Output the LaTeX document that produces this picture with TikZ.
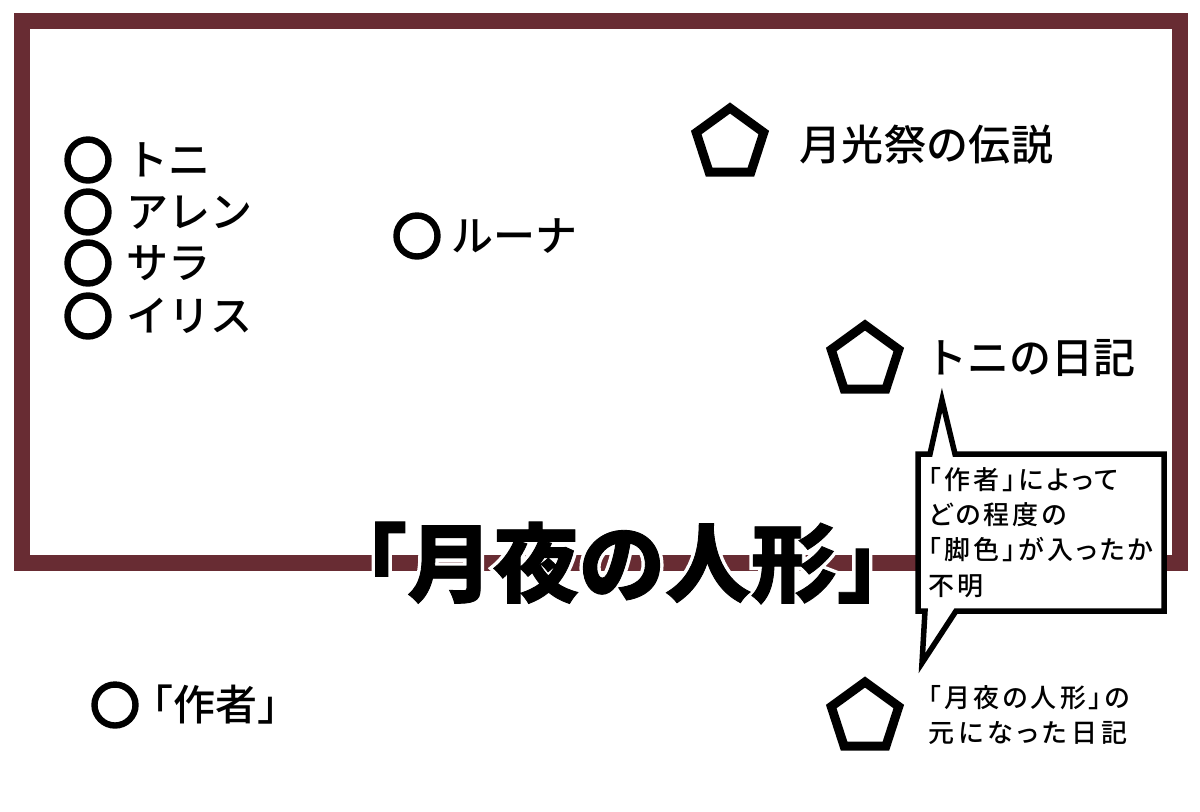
\documentclass[tikz,border=0pt]{standalone}
\usepackage{fontspec}
\usepackage{xcolor}
\usetikzlibrary{shapes.geometric}
\newfontfamily\jpfont{Noto Sans CJK JP Medium}
\newfontfamily\jpsmall[RawFeature=+palt, LetterSpace=12]{Noto Sans CJK JP Medium}
\newfontfamily\jptitle[FakeBold=1]{Noto Sans CJK JP Black}
\newfontfamily\jphalo[FakeBold=9]{Noto Sans CJK JP Black}
\definecolor{framered}{HTML}{682C33}
\tikzset{
    char-mark/.style = {draw=black, line width=3.2pt, circle, inner sep=0pt, minimum size=20.5pt},
    item-mark/.style = {draw=black, line width=4.5pt, regular polygon, regular polygon sides=5, inner sep=0pt, minimum size=35.5pt},
    big-label/.style = {inner sep=0pt, anchor=west, text height=18pt, text depth=3pt, font=\jpfont\fontsize{21}{25}\selectfont},
    small-label/.style = {inner sep=0pt, anchor=north west, align=left, font=\jpsmall\fontsize{13}{17.6}\selectfont},
    title-label/.style = {inner sep=0pt, font=\jptitle\fontsize{43}{50}\selectfont},
}

\begin{document}
\begin{tikzpicture}[x=0.5pt, y=-0.5pt]
\useasboundingbox (0,0) rectangle (1200,811);
\draw[framered, line width=8pt] (21.5,21) rectangle (1179.7,563);

% title on top of the frame
\node[title-label, text=white, font=\jphalo\fontsize{43}{50}\selectfont] (title-halo) at (622,563) {「月夜の人形」};
\node[title-label] (title) at (622,563) {「月夜の人形」};

% characters
\node[char-mark] (toni-mark) at (88,160) {};
\node[char-mark] (allen-mark) at (88,212) {};
\node[char-mark] (sara-mark) at (88,263) {};
\node[char-mark] (iris-mark) at (88,316) {};
\node[char-mark] (luna-mark) at (417,236) {};
\node[char-mark] (author-mark) at (115,705) {};
\node[big-label, right=7pt] (toni) at (toni-mark.east) {トニ};
\node[big-label, right=7pt] (allen) at (allen-mark.east) {アレン};
\node[big-label, right=7pt] (sara) at (sara-mark.east) {サラ};
\node[big-label, right=7pt] (iris) at (iris-mark.east) {イリス};
\node[big-label, right=5pt] (luna) at (luna-mark.east) {ルーナ};
\node[big-label, right=-4pt] (author) at (author-mark.east) {「作者」};

% items
\node[item-mark] (legend-mark) at (730,143.5) {};
\node[item-mark] (diary-mark) at (865,360.5) {};
\node[item-mark] (source-mark) at (865,717.5) {};
\node[big-label, right=17pt, yshift=-1pt] (legend) at (legend-mark.east) {\addfontfeature{LetterSpace=1}月光祭の伝説};
\node[big-label] (diary) at (925,358) {トニの日記};
\node[small-label] (source) at (928,685) {「月夜の人形」の\\\addfontfeature{LetterSpace=16}元になった日記};

% speech bubble
\draw[black, fill=white, line width=2.75pt] (918,454) -- (930,454) -- (942,400) -- (955,454) -- (1164,454)
    -- (1164,611) -- (956,611) -- (922,663) -- (925,611) -- (918,611) -- cycle;
\node[small-label] (note) at (928,467) {「作者」によって\\どの程度の\\「脚色」が入ったか\\不明};
\end{tikzpicture}
\end{document}
